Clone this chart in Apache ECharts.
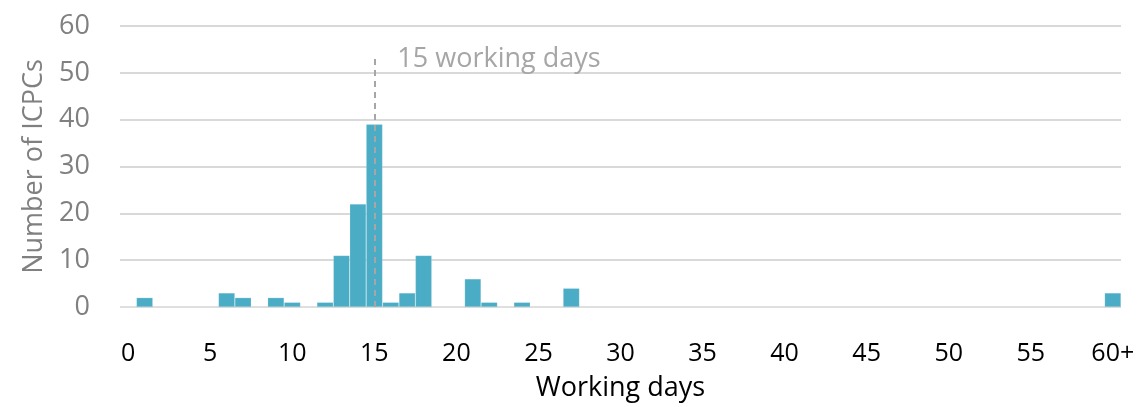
<!DOCTYPE html>
<html>
<head>
<meta charset="utf-8">
<script src="https://cdn.jsdelivr.net/npm/echarts@6/dist/echarts.min.js"></script>
<style>
  html, body { margin: 0; padding: 0; background: #fff; }
  #chart { width: 1138px; height: 407px; }
</style>
</head>
<body>
<div id="chart"></div>
<script>
// histogram bins: working days (60 = "60+") and number of ICPCs in each
const binDays = [1, 6, 7, 9, 10, 12, 13, 14, 15, 16, 17, 18, 21, 22, 24, 27, 60];
const binCounts = [2, 3, 2, 2, 1, 1, 11, 22, 39, 1, 3, 11, 6, 1, 1, 4, 3];
const xTickLabels = ['0', '5', '10', '15', '20', '25', '30', '35', '40', '45', '50', '55', '60+'];
const yTicks = [0, 10, 20, 30, 40, 50, 60];
const markDay = 15;
const markTop = 54;
const markText = '15 working days';

const font = '"Open Sans", "Noto Sans", sans-serif';

// one category per day 0..60
const categories = [];
for (let d = 0; d <= 60; d++) categories.push(String(d));
const counts = categories.map(() => 0);
binDays.forEach((d, i) => { counts[d] = binCounts[i]; });

const chart = echarts.init(document.getElementById('chart'), null, { renderer: 'canvas' });
chart.setOption({
  animation: false,
  grid: { left: 120, right: 17, top: 26, bottom: 100 },
  xAxis: {
    type: 'category',
    data: categories,
    boundaryGap: true,
    name: 'Working days',
    nameLocation: 'middle',
    nameGap: 68,
    nameTextStyle: { color: '#000', fontSize: 27, fontFamily: font },
    axisLine: { show: false },
    axisTick: { show: false },
    axisLabel: {
      interval: 4,
      margin: 34,
      color: '#000',
      fontSize: 25,
      fontFamily: font,
      formatter: (v, idx) => xTickLabels[idx / 5]
    },
    splitLine: { show: false }
  },
  yAxis: {
    type: 'value',
    min: yTicks[0],
    max: yTicks[yTicks.length - 1],
    interval: 10,
    name: 'Number of ICPCs',
    nameLocation: 'middle',
    nameGap: 72,
    nameTextStyle: { color: '#808080', fontSize: 27, fontFamily: font },
    axisLine: { show: false },
    axisTick: { show: false },
    axisLabel: { margin: 30, color: '#808080', fontSize: 27, fontFamily: font },
    splitLine: { lineStyle: { color: '#d9d9d9', width: 2 } }
  },
  series: [{
    type: 'bar',
    data: counts,
    barWidth: '100%',
    barCategoryGap: 0,
    itemStyle: { color: '#4bacc6', borderColor: 'rgba(255,255,255,0.35)', borderWidth: 0.5 },
    markLine: {
      silent: true,
      symbol: 'none',
      label: { show: false },
      lineStyle: { color: '#a6a6a6', type: [6, 5], width: 2 },
      data: [[{ coord: [String(markDay), 0] }, { coord: [String(markDay), markTop] }]]
    },
    markPoint: {
      silent: true,
      symbol: 'circle',
      symbolSize: 0,
      data: [{ coord: [String(markDay), markTop - 1.2] }],
      label: {
        show: true,
        position: 'right',
        distance: 23,
        formatter: markText,
        color: '#a6a6a6',
        fontSize: 27,
        fontFamily: font
      }
    }
  }]
});
</script>
</body>
</html>
